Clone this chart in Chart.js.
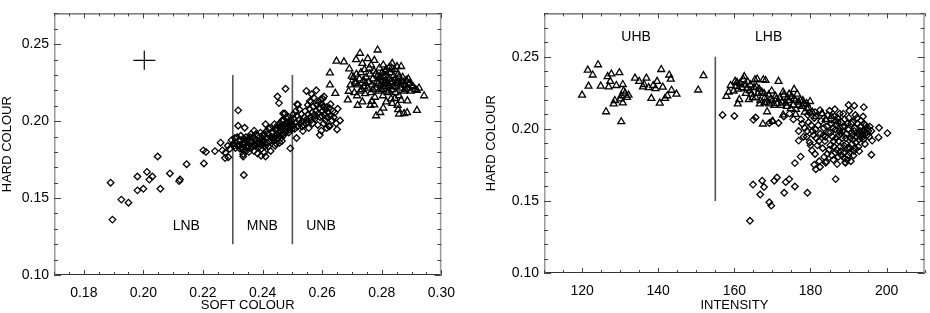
<!DOCTYPE html>
<html>
<head>
<meta charset="utf-8">
<script src="https://cdn.jsdelivr.net/npm/chart.js@4.4.0/dist/chart.umd.min.js"></script>
<style>
  html, body { margin: 0; padding: 0; background: #fff; }
  #wrap { position: relative; width: 930px; height: 313px; }
  canvas { position: absolute; top: 0; }
  #left  { left: 0; }
  #right { left: 465px; }
</style>
</head>
<body>
<div id="wrap">
  <canvas id="left" width="465" height="313"></canvas>
  <canvas id="right" width="465" height="313"></canvas>
</div>
<script>
// ─── Data ─────────────────────────────────────────────────────────────────────

// Left panel: [soft colour, hard colour] — normal branch (diamonds)
const nbColours = [
  [0.189,0.160],[0.1896,0.136],[0.1926,0.149],[0.195,0.147],[0.198,0.164],[0.198,0.155],[0.200,0.156],
  [0.2012,0.167],[0.202,0.162],[0.203,0.164],[0.2048,0.177],[0.2057,0.156],[0.2089,0.166],[0.212,0.161],
  [0.2123,0.162],[0.2145,0.172],[0.2201,0.181],[0.2203,0.1725],[0.221,0.180],[0.224,0.1805],[0.2259,0.186],
  [0.2265,0.181],[0.2274,0.176],[0.2283,0.184],[0.2285,0.1765],[0.2275,0.1795],[0.229,0.182],
  [0.2318,0.207],[0.2318,0.197],[0.2337,0.165],[0.2335,0.177],[0.234,0.1957],
  [0.2296,0.1876],[0.2307,0.189],[0.2316,0.184],[0.2324,0.182],[0.2332,0.1856],[0.234,0.188],[0.2346,0.183],
  [0.2354,0.180],[0.236,0.187],[0.2368,0.1897],[0.2372,0.1938],[0.2376,0.184],[0.2383,0.179],[0.239,0.186],
  [0.2396,0.182],[0.2402,0.188],[0.241,0.198],[0.2405,0.192],[0.242,0.195],[0.2416,0.186],[0.2427,0.1806],
  [0.2432,0.189],[0.244,0.198],[0.2446,0.194],[0.2452,0.189],[0.2457,0.186],[0.2461,0.1963],[0.2465,0.2004],
  [0.2469,0.205],[0.2472,0.1911],[0.2477,0.1938],[0.2481,0.1994],[0.2485,0.2025],[0.2491,0.1973],[0.2488,0.1926],
  [0.2305,0.184],[0.2312,0.186],[0.2322,0.1875],[0.233,0.183],[0.2335,0.1885],[0.2342,0.1855],[0.2348,0.1875],
  [0.2352,0.184],[0.2358,0.1895],[0.2362,0.1825],[0.2367,0.1865],[0.237,0.1845],[0.2374,0.188],[0.238,0.1855],
  [0.2384,0.1905],[0.2387,0.183],[0.2392,0.188],[0.2398,0.1845],[0.2403,0.1865],[0.2408,0.1835],[0.2412,0.189],
  [0.2418,0.1915],[0.2423,0.1865],[0.2428,0.19],[0.2435,0.1925],[0.2438,0.1875],[0.2443,0.1905],[0.2448,0.1955],
  [0.2453,0.1925],[0.2458,0.1935],[0.2463,0.189],[0.2467,0.1945],[0.247,0.1975],[0.2475,0.1955],[0.2478,0.1985],
  [0.2483,0.196],[0.2487,0.1995],[0.2493,0.1965],[0.2496,0.2005],
  [0.2302,0.1855],[0.2309,0.1825],[0.2315,0.1895],[0.2321,0.1845],[0.2327,0.1905],[0.2333,0.1815],[0.2338,0.1865],
  [0.2344,0.1895],[0.235,0.1825],[0.2356,0.1865],[0.2361,0.1915],[0.2366,0.1835],[0.2371,0.1805],[0.2377,0.1915],
  [0.2382,0.1875],[0.2388,0.1855],[0.2393,0.1925],[0.2399,0.1865],[0.2404,0.1905],[0.2409,0.1855],[0.2414,0.1935],
  [0.2419,0.1835],[0.2425,0.1955],[0.243,0.1875],[0.2436,0.1895],[0.2441,0.1945],[0.2447,0.1915],[0.2451,0.1975],
  [0.2456,0.1905],[0.246,0.1985],[0.2466,0.1915],[0.2471,0.2005],[0.2476,0.1925],[0.2482,0.2015],[0.2489,0.1945],
  [0.2494,0.1985],[0.2498,0.1945],
  [0.245,0.216],[0.2455,0.2117],[0.2477,0.221],[0.2475,0.205],[0.244,0.189],[0.241,0.177],[0.2493,0.1823],
  [0.2335,0.1785],[0.2345,0.1805],[0.2395,0.1775],[0.2405,0.1795],[0.2442,0.184],[0.2465,0.187],[0.2445,0.1855],
  [0.2516,0.211],[0.2547,0.2196],[0.258,0.22],[0.2606,0.216],[0.2572,0.2152],[0.2592,0.191],[0.2597,0.1938],
  [0.2625,0.1967],[0.2652,0.208],[0.266,0.2004],[0.265,0.1946],[0.2639,0.2025],[0.2614,0.209],[0.2514,0.189],
  [0.2519,0.2107],[0.2622,0.1967],
  [0.2502,0.1975],[0.2505,0.2015],[0.2508,0.195],[0.2512,0.199],[0.2515,0.2035],[0.2518,0.1965],[0.2522,0.2005],
  [0.2526,0.1985],[0.253,0.2045],[0.2533,0.2],[0.2537,0.1975],[0.254,0.2025],[0.2543,0.2065],[0.2547,0.201],
  [0.255,0.1995],[0.2553,0.2045],[0.2557,0.208],[0.256,0.2025],[0.2563,0.2005],[0.2566,0.2055],[0.257,0.2095],
  [0.2573,0.204],[0.2576,0.2015],[0.258,0.2065],[0.2583,0.2105],[0.2587,0.205],[0.259,0.2085],[0.2593,0.2025],
  [0.2597,0.2115],[0.26,0.2065],[0.2604,0.2095],[0.2608,0.2045],[0.2612,0.2075],[0.2617,0.2025],[0.2621,0.2055],
  [0.2627,0.2035],[0.2633,0.2005],[0.2642,0.2055],[0.2647,0.1985],[0.2535,0.1935],[0.2555,0.1955],[0.2585,0.1975],
  [0.2605,0.1985],[0.2615,0.1955],[0.2558,0.213],[0.2565,0.2175],[0.2595,0.214],[0.2628,0.211],
  [0.2503,0.2045],[0.2511,0.2065],[0.2524,0.2075],[0.2532,0.1965],[0.2545,0.1985],[0.2552,0.2105],[0.2562,0.2125],
  [0.2568,0.1985],[0.2578,0.2035],[0.2588,0.2125],[0.2598,0.2035],[0.2602,0.2145],[0.2611,0.2005],[0.2624,0.2085],
  [0.2636,0.2065]
];

// Left panel: [soft colour, hard colour] — horizontal branch (triangles)
const hbColours = [
  [0.2626,0.2313],[0.2648,0.239],[0.2673,0.2385],[0.2626,0.2235],[0.2644,0.218],[0.2691,0.234],[0.2699,0.2293],
  [0.2689,0.2194],[0.2686,0.2138],[0.2717,0.2165],[0.2719,0.2103],[0.2714,0.24],[0.2727,0.2441],[0.2753,0.2406],
  [0.2786,0.2462],[0.2764,0.2365],[0.2781,0.2035],[0.2795,0.2056],[0.2858,0.2045],[0.2875,0.2049],[0.2918,0.207],
  [0.2942,0.2165],[0.2918,0.22],[0.29,0.2231],[0.2851,0.2354],[0.2825,0.235],[0.2744,0.2179],[0.2762,0.2103],
  [0.2766,0.2128],[0.2853,0.2103],[0.2886,0.2132],[0.2844,0.2148],[0.2745,0.2246],
  [0.2705,0.2285],[0.271,0.2255],[0.2715,0.2305],[0.272,0.2235],[0.2725,0.2275],[0.273,0.2315],[0.2733,0.2205],
  [0.2738,0.2265],[0.2742,0.2335],[0.2748,0.2285],[0.2752,0.2215],[0.2756,0.2255],[0.276,0.2305],[0.2763,0.2185],
  [0.2767,0.2235],[0.277,0.2275],[0.2774,0.2325],[0.2777,0.2155],[0.278,0.2215],[0.2783,0.2255],[0.2786,0.2295],
  [0.279,0.2195],[0.2792,0.2345],[0.2795,0.2235],[0.2798,0.2275],[0.2801,0.2315],[0.2804,0.2165],[0.2807,0.2215],
  [0.281,0.2255],[0.2813,0.2295],[0.2816,0.2335],[0.2819,0.2185],[0.2822,0.2235],[0.2825,0.2275],[0.2828,0.2315],
  [0.2831,0.2145],[0.2834,0.2205],[0.2837,0.2255],[0.284,0.2295],[0.2843,0.2335],[0.2846,0.2185],[0.2849,0.2225],
  [0.2852,0.2265],[0.2855,0.2305],[0.2858,0.2165],[0.2862,0.2215],[0.2866,0.2255],[0.287,0.2285],[0.2874,0.2195],
  [0.2878,0.2235],[0.2882,0.2265],[0.2887,0.2215],[0.2892,0.2245],[0.2897,0.2195],[0.2905,0.2225],[0.2912,0.2205],
  [0.2925,0.2215],[0.2735,0.2125],[0.2775,0.2105],[0.2815,0.2125],[0.2835,0.2115],[0.2865,0.2135],[0.2805,0.2085],
  [0.2855,0.2075],[0.2885,0.2055],[0.2708,0.2185],[0.2695,0.2235],[0.2735,0.2375],[0.2775,0.2395],[0.2805,0.2365],
  [0.2835,0.2375],[0.2865,0.2355],[0.2805,0.2225],[0.2795,0.2285],[0.2815,0.2265],[0.2825,0.2225],
  [0.2712,0.2245],[0.2728,0.2195],[0.2741,0.2225],[0.2758,0.2345],[0.2771,0.2205],[0.2779,0.2305],[0.2788,0.2245],
  [0.2799,0.2205],[0.2806,0.2285],[0.2811,0.2325],[0.2818,0.2245],[0.2824,0.2195],[0.2829,0.2255],[0.2833,0.2345],
  [0.2839,0.2225],[0.2845,0.2275],[0.2851,0.2245],[0.2857,0.2285],[0.2863,0.2235],[0.2871,0.2255],[0.2879,0.2205],
  [0.2889,0.2275]
];

// Right panel: [intensity, hard colour] — horizontal branch (triangles)
const hbIntensity = [
  [120,0.2233],[121.5,0.2407],[121.7,0.2296],[122.8,0.2373],[124.2,0.2444],[124.9,0.2296],[126.3,0.2118],
  [126.7,0.2362],[127,0.2291],[127.4,0.2329],[127.7,0.238],[128.3,0.2173],[128.6,0.2196],[129,0.23],
  [129.8,0.2389],[130.3,0.2049],[130.3,0.2229],[130.7,0.2307],[130.9,0.2262],[131.3,0.2247],[131.8,0.2218],
  [132.2,0.2233],[130.7,0.218],[130.1,0.2207],[133.9,0.2351],[135,0.2329],[136,0.2291],[136.3,0.2307],
  [136.9,0.2351],[138.2,0.2211],[138.7,0.23],[139.3,0.2278],[140.4,0.2178],[140.8,0.2411],[141.2,0.2289],
  [141.8,0.2211],[142.4,0.2229],[142.9,0.2373],[143.3,0.2344],[143.5,0.2267],[144.8,0.224],[150.5,0.2269],
  [151.9,0.2369],[139.7,0.2329],[137.5,0.2285],
  [157.9,0.2224],[159,0.23],[159.8,0.2262],[160.2,0.2329],[160.7,0.2322],[160.9,0.2173],[161.3,0.2202],
  [162.4,0.234],[162.6,0.2362],[163.2,0.2278],[163.8,0.2202],[164.5,0.224],[165.4,0.234],[165.8,0.2291],
  [165.6,0.2218],[166.7,0.2173],[167.5,0.2033],[167.6,0.234],[167.9,0.218],[168.6,0.2118],[169.2,0.2173],
  [169.8,0.2262],[170.1,0.2051],[170.5,0.2162],[171.6,0.2329],[172.2,0.2162],[172.8,0.2096],[173.5,0.2178],
  [174.4,0.224],[174.8,0.214],[175.7,0.2273],[176.1,0.21],[177.4,0.2196],[178.2,0.2173],[179.1,0.214],
  [179.9,0.2189],[175.7,0.2207],[176.5,0.224],
  [158.5,0.2255],[161.5,0.2315],[162,0.2285],[163.5,0.2325],[164,0.2265],[164.8,0.2215],[165.2,0.2285],
  [166.2,0.2245],[166.8,0.2195],[167.2,0.2255],[168,0.2215],[168.5,0.2185],[169,0.2235],[170,0.2195],
  [170.8,0.2225],[171.2,0.2175],[172,0.2215],[172.5,0.2185],[173,0.2235],[173.8,0.2155],[174.2,0.2195],
  [175,0.2225],[175.5,0.2165],[176.2,0.2135],[176.8,0.2185],[177.8,0.2155],[178.5,0.2115],[179.5,0.2145],
  [180.5,0.2115],[181.5,0.2085],[183,0.2105],[184,0.2065],[185.5,0.2085],[186.5,0.2055],[163,0.2245],
  [161,0.2275],[166,0.2345],[168.2,0.2335],
  [160.5,0.2295],[162.8,0.2305],[164.2,0.2305],[166.5,0.2275],[167.8,0.2245],[169.5,0.2205],[171,0.2205],
  [172.8,0.2255],[174,0.2215],[176,0.2195],[177,0.2165],[178,0.2195],[179,0.2175]
];

// Right panel: [intensity, hard colour] — normal branch (diamonds)
const nbIntensity = [
  [178.5,0.2005],[179,0.1945],[179.5,0.2045],[180,0.1885],[180.5,0.1985],[181,0.2075],[181.2,0.1825],
  [181.5,0.1935],[182,0.2025],[182.3,0.1775],[182.6,0.1965],[183,0.2105],[183.2,0.1865],[183.5,0.2005],
  [183.8,0.1915],[184.1,0.2055],[184.4,0.1825],[184.7,0.1975],[185,0.2125],[185.2,0.1885],[185.5,0.2035],
  [185.8,0.1945],[186,0.1785],[186.3,0.2085],[186.6,0.1995],[186.9,0.1855],[187.2,0.2045],[187.4,0.1915],
  [187.7,0.2105],[188,0.1965],[188.2,0.1815],[188.5,0.2015],[188.8,0.1885],[189,0.2065],[189.3,0.1935],
  [189.6,0.1785],[189.9,0.1995],[190.2,0.2125],[190.4,0.1865],[190.7,0.2035],[191,0.1955],[191.3,0.1815],
  [191.6,0.2005],[191.9,0.1905],[192.2,0.2075],[192.5,0.1965],[192.8,0.1845],[193.1,0.2015],[193.4,0.1935],
  [193.7,0.1985],[194,0.2035],[194.3,0.1895],[194.6,0.1975],[195,0.2005],[195.4,0.1945],[196,0.1985],
  [187,0.1755],[189.2,0.1765],[185.6,0.1815],[184,0.1765],[182.5,0.1735],[183.6,0.1805],[190.6,0.1775],
  [192.6,0.1875],[188.6,0.2105],[186.4,0.2135],[184.6,0.2095],[191.8,0.2095],[193.8,0.2085],[190,0.2165],
  [187.9,0.1845],[186.1,0.1915],[189.4,0.1895],[191.2,0.1925],[192.9,0.1955],[185.3,0.1975],[183.9,0.1945],
  [188.3,0.1935],[187.6,0.1985],[190.8,0.1975],[189.7,0.2035],[186.8,0.2025],[180.8,0.1955],[181.8,0.1885],
  [179.8,0.1905],
  [180.2,0.2025],[181.3,0.1995],[182.2,0.1915],[182.8,0.2055],[183.4,0.1955],[184.3,0.2015],[184.9,0.1855],
  [185.4,0.2065],[185.9,0.2005],[186.2,0.1875],[186.7,0.1935],[187.1,0.2075],[187.5,0.1955],[187.8,0.1875],
  [188.1,0.2045],[188.4,0.1985],[188.7,0.1835],[189.1,0.2015],[189.5,0.1965],[189.8,0.1865],[190.1,0.2075],
  [190.5,0.1935],[190.9,0.1895],[191.1,0.2045],[191.5,0.1985],[191.7,0.1865],[192.1,0.1945],[192.4,0.2035],
  [192.7,0.1925],[193,0.1985],[193.3,0.2055],[193.6,0.1955],[193.9,0.1925],[194.2,0.1985],[194.5,0.2025],
  [194.8,0.1955],[195.2,0.1985],[195.6,0.2015],[189.9,0.1815],[188.9,0.1795],[187.3,0.1805],[186.5,0.1835],
  [191.4,0.1845],[190.3,0.1835],
  [156.9,0.2096],[160,0.2089],[165,0.2062],[165.6,0.2078],[169.9,0.2053],[169.2,0.204],[171.6,0.204],
  [179.8,0.211],[176.9,0.1984],[176.9,0.1918],[179.1,0.1984],[182.5,0.2129],[175.9,0.1762],[177.4,0.1807],
  [180.4,0.185],[181,0.175],[181.4,0.172],[184.2,0.1773],[191.5,0.216],[194,0.215],[196,0.182],[197.9,0.194],
  [198,0.2007],[200.2,0.197],[196.2,0.1918],[189.1,0.1767],[164.9,0.1613],[167.3,0.164],[167.8,0.1596],
  [166.8,0.1544],[169.2,0.149],[169.7,0.1467],[170.5,0.164],[171.2,0.1662],[173.1,0.1556],[173.5,0.163],
  [174.4,0.1651],[175.9,0.16],[179.2,0.1556],[164.1,0.1362],[186.6,0.1651],[177.5,0.2065],[178.2,0.1945],
  [174.5,0.2105],[173,0.2085],[175.5,0.2065],[177.8,0.2035],[179.3,0.2095],[181.2,0.2115]
];

// Axis ranges and tick labels
const softRange      = [0.17, 0.30];
const softTicks      = [0.18, 0.20, 0.22, 0.24, 0.26, 0.28, 0.30];
const intensityRange = [110, 210];
const intensityTicks = [120, 140, 160, 180, 200];
const hardRangeLeft  = [0.10, 0.27];
const hardRangeRight = [0.10, 0.28];
const hardTicks      = [0.10, 0.15, 0.20, 0.25];

// Annotations
const nbBoundarySoft   = [0.23, 0.25];
const nbBoundaryHard   = [0.12, 0.23];
const nbRegionNames    = ['LNB', 'MNB', 'UNB'];
const nbRegionSoft     = [0.2144, 0.2399, 0.2596];
const nbRegionHard     = 0.1316;
const hbBoundaryInt    = 155;
const hbBoundaryHard   = [0.15, 0.25];
const hbRegionNames    = ['UHB', 'LHB'];
const hbRegionInt      = [134.2, 169];
const hbRegionHard     = 0.2635;
const errorCentre      = [0.2003, 0.2395];
const errorHalf        = [0.0037, 0.0062];

// ─── Helpers ──────────────────────────────────────────────────────────────────

const FONT   = '"Liberation Sans", Arial, Helvetica, sans-serif';
const BLACK  = '#000';

const toPts = (arr) => arr.map(([x, y]) => ({ x, y }));

function stepValues(scale, step) {
  const out = [];
  const n0 = Math.ceil(scale.min / step - 1e-6);
  const n1 = Math.floor(scale.max / step + 1e-6);
  for (let n = n0; n <= n1; n++) out.push(n * step);
  return out;
}

// IDL-style box with inward ticks on all four sides, plus text annotations
const idlFrame = {
  id: 'idlFrame',
  afterDraw(chart, args, o) {
    const { ctx, chartArea: a, scales: { x, y } } = chart;
    ctx.save();

    ctx.lineWidth = 1;
    ctx.strokeStyle = '#333';
    ctx.beginPath();
    ctx.moveTo(a.left, a.top + 0.5);     ctx.lineTo(a.right, a.top + 0.5);
    ctx.moveTo(a.left, a.bottom - 0.5);  ctx.lineTo(a.right, a.bottom - 0.5);
    ctx.stroke();

    ctx.strokeStyle = '#9a9a9a';
    ctx.lineWidth = 1.5;
    ctx.beginPath();
    ctx.moveTo(a.left + 0.75, a.top);  ctx.lineTo(a.left + 0.75, a.bottom);
    ctx.moveTo(a.right - 0.75, a.top); ctx.lineTo(a.right - 0.75, a.bottom);
    ctx.stroke();

    ctx.strokeStyle = '#444';
    ctx.lineWidth = 1;
    ctx.beginPath();
    const xt = (v, len) => {
      const p = Math.round(x.getPixelForValue(v)) + 0.5;
      ctx.moveTo(p, a.bottom); ctx.lineTo(p, a.bottom - len);
      ctx.moveTo(p, a.top);    ctx.lineTo(p, a.top + len);
    };
    const yt = (v, len) => {
      const p = Math.round(y.getPixelForValue(v)) + 0.5;
      ctx.moveTo(a.left, p);  ctx.lineTo(a.left + len, p);
      ctx.moveTo(a.right, p); ctx.lineTo(a.right - len, p);
    };
    stepValues(x, o.xMinor).forEach(v => xt(v, 3));
    x.ticks.forEach(t => xt(t.value, 5));
    stepValues(y, 0.01).forEach(v => yt(v, 4));
    y.ticks.forEach(t => yt(t.value, 7));
    ctx.stroke();

    ctx.fillStyle = BLACK;
    ctx.font = '14px ' + FONT;
    ctx.textAlign = 'center';
    ctx.textBaseline = 'middle';
    o.labels.forEach(l => ctx.fillText(l.text, x.getPixelForValue(l.x), y.getPixelForValue(l.y)));
    ctx.restore();
  }
};

function axis(range, ticks, fmt, title, size, horizontal) {
  return {
    type: 'linear',
    min: range[0],
    max: range[1],
    afterBuildTicks: (s) => { s.ticks = ticks.map(v => ({ value: v })); },
    afterFit: (s) => { if (horizontal) s.height = size; else s.width = size; },
    grid:   { display: false, drawTicks: false },
    border: { display: false },
    ticks: {
      color: BLACK,
      font: { family: FONT, size: 14 },
      padding: horizontal ? 10 : 5,
      maxRotation: 0,
      autoSkip: false,
      callback: fmt,
    },
    title: {
      display: true,
      text: title,
      color: BLACK,
      font: { family: FONT, size: 13 },
      padding: 0,
    },
  };
}

const scatterSet = (pts, style, radius) => ({
  data: toPts(pts),
  pointStyle: style,
  pointRadius: radius,
  pointBorderColor: BLACK,
  pointBackgroundColor: 'rgba(0,0,0,0)',
  pointBorderWidth: 1.3,
  showLine: false,
});

const lineSet = (pts, color, width) => ({
  data: toPts(pts),
  showLine: true,
  borderColor: color,
  borderWidth: width,
  pointRadius: 0,
  fill: false,
});

function baseOptions(padding) {
  return {
    responsive: false,
    animation: false,
    events: [],
    layout: { padding },
    plugins: { legend: { display: false }, tooltip: { enabled: false } },
  };
}

// ─── Left: soft colour vs hard colour ─────────────────────────────────────────

const leftOpts = baseOptions({ left: 0, right: 22, top: 1, bottom: 0 });
leftOpts.scales = {
  x: axis(softRange, softTicks, v => v.toFixed(2), 'SOFT COLOUR', 38, true),
  y: axis(hardRangeLeft, hardTicks, v => v.toFixed(2), 'HARD COLOUR', 54, false),
};
leftOpts.plugins.idlFrame = {
  xMinor: 0.005,
  labels: nbRegionNames.map((t, i) => ({ text: t, x: nbRegionSoft[i], y: nbRegionHard })),
};

new Chart(document.getElementById('left'), {
  type: 'scatter',
  data: {
    datasets: [
      scatterSet(nbColours, 'rectRot', 3.3),
      scatterSet(hbColours, 'triangle', 4),
      ...nbBoundarySoft.map(s => lineSet([[s, nbBoundaryHard[0]], [s, nbBoundaryHard[1]]], '#555', 1.6)),
      lineSet([[errorCentre[0] - errorHalf[0], errorCentre[1]], [errorCentre[0] + errorHalf[0], errorCentre[1]]], BLACK, 1.2),
      lineSet([[errorCentre[0], errorCentre[1] - errorHalf[1]], [errorCentre[0], errorCentre[1] + errorHalf[1]]], BLACK, 1.2),
    ],
  },
  options: leftOpts,
  plugins: [idlFrame],
});

// ─── Right: intensity vs hard colour ──────────────────────────────────────────

const rightOpts = baseOptions({ left: 19, right: 1, top: 0, bottom: 0 });
rightOpts.scales = {
  x: axis(intensityRange, intensityTicks, v => String(v), 'INTENSITY', 40, true),
  y: axis(hardRangeRight, hardTicks, v => v.toFixed(2), 'HARD COLOUR', 60, false),
};
rightOpts.plugins.idlFrame = {
  xMinor: 5,
  labels: hbRegionNames.map((t, i) => ({ text: t, x: hbRegionInt[i], y: hbRegionHard })),
};

new Chart(document.getElementById('right'), {
  type: 'scatter',
  data: {
    datasets: [
      scatterSet(hbIntensity, 'triangle', 4),
      scatterSet(nbIntensity, 'rectRot', 3.3),
      lineSet([[hbBoundaryInt, hbBoundaryHard[0]], [hbBoundaryInt, hbBoundaryHard[1]]], '#555', 1.6),
    ],
  },
  options: rightOpts,
  plugins: [idlFrame],
});
</script>
</body>
</html>
